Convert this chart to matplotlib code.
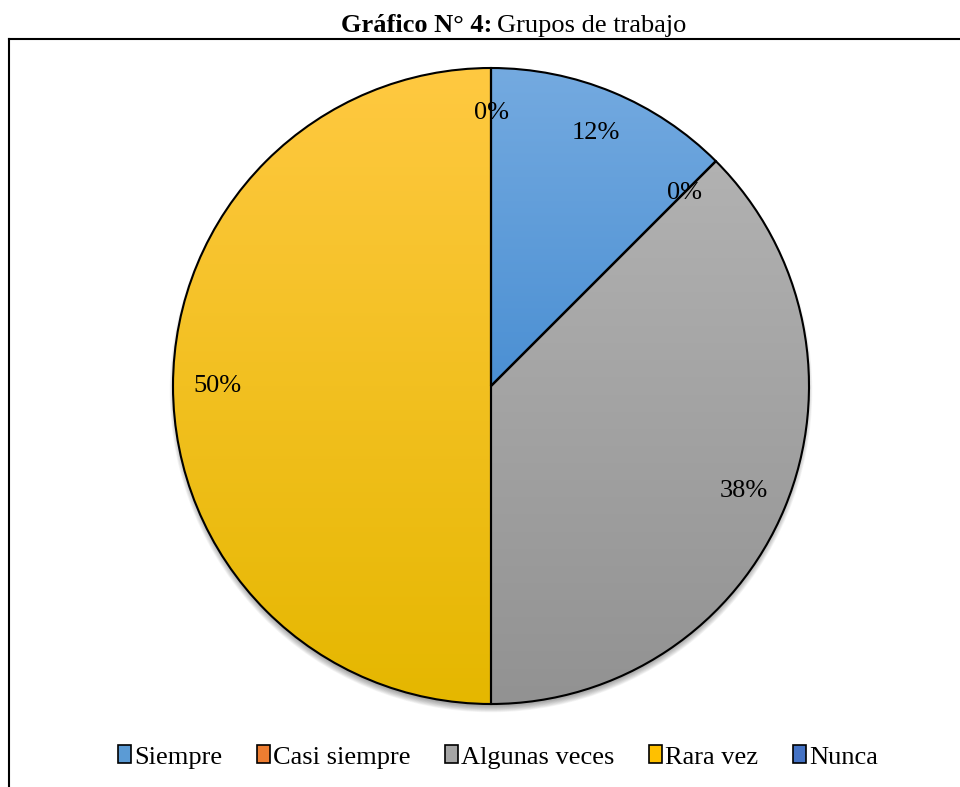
import numpy as np
import matplotlib.pyplot as plt
from matplotlib.colors import to_rgb
from matplotlib.patches import Circle
from matplotlib.lines import Line2D

plt.rcParams['font.family'] = ['Liberation Serif', 'DejaVu Serif']

# data
categorias = ['Siempre', 'Casi siempre', 'Algunas veces', 'Rara vez', 'Nunca']
porcentajes = [12.5, 0, 37.5, 50, 0]
# gradient (top, bottom) per slice
colores_arriba = ['#74AAE0', '#F4A36B', '#B7B7B7', '#FFC941', '#5B86D0']
colores_abajo = ['#2275C6', '#E0702A', '#929292', '#E5B700', '#2F5FB5']
colores_leyenda = ['#5B9BD5', '#ED7D31', '#A5A5A5', '#FFC000', '#4472C4']

W, H = 960, 787
fig = plt.figure(figsize=(W / 100, H / 100), dpi=100)
ax = fig.add_axes([0, 0, 1, 1])

cx, cy, r = 491, H - 386, 318

# soft shadow under the pie
for k in range(10):
    ax.add_patch(Circle((cx, cy - 5), r - 3 + k * 0.7, color='black',
                        alpha=0.04, lw=0, zorder=0))
ax.add_patch(Circle((cx, cy), r, color='white', lw=0, zorder=0.5))

wedges, texts, autotexts = ax.pie(
    porcentajes, startangle=90, counterclock=False, center=(cx, cy), radius=r,
    colors=colores_leyenda, autopct='%.0f%%', pctdistance=0.86,
    wedgeprops=dict(edgecolor='black', linewidth=1.5),
    textprops=dict(fontsize=19, color='black'), frame=True)
ax.set_xlim(0, W)
ax.set_ylim(0, H)
ax.axis('off')

n = 256
for w, top, bot in zip(wedges, colores_arriba, colores_abajo):
    t = np.linspace(0, 1, n)[:, None]
    grad = (1 - t) * np.array(to_rgb(top)) + t * np.array(to_rgb(bot))
    img = ax.imshow(grad[:, None, :], extent=(cx - r, cx + r, cy - r, cy + r),
                    origin='upper', aspect='auto', zorder=1, interpolation='bilinear')
    img.set_clip_path(w)
    w.set_facecolor('none')
    w.set_zorder(2)
for t in autotexts:
    t.set_zorder(3)

# legend
handles = [plt.Rectangle((0, 0), 1, 1, facecolor=c, edgecolor='black', lw=1.2)
           for c in colores_leyenda]
ax.legend(handles, categorias, loc='center', bbox_to_anchor=(498 / W, (H - 757) / H),
          ncol=5, frameon=False, fontsize=19, handlelength=0.5, handleheight=0.65,
          handletextpad=0.12, columnspacing=1.3)

# title
fig.text(492 / W, 1 - 32 / H, 'Gráfico N° 4:', ha='right', va='baseline',
         fontsize=19, fontweight='bold')
fig.text(497 / W, 1 - 32 / H, 'Grupos de trabajo', ha='left', va='baseline',
         fontsize=19)

# border
fig.add_artist(Line2D([8.5 / W, 8.5 / W], [0, 1 - 39 / H], color='black', lw=1.5))
fig.add_artist(Line2D([8.5 / W, 1], [1 - 39 / H, 1 - 39 / H], color='black', lw=1.5))

fig.savefig('out.png', dpi=100)
